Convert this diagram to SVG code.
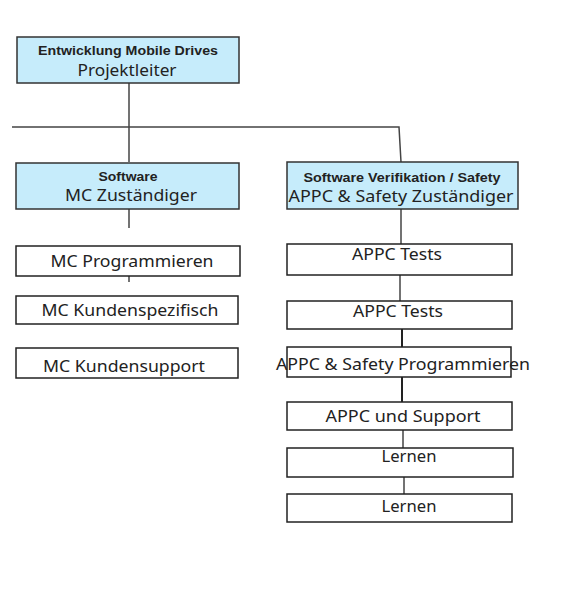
<svg xmlns="http://www.w3.org/2000/svg" width="561" height="598" viewBox="0 0 561 598">
<style>
.hd{fill:#c6ecfb;stroke:#333;stroke-width:1.5}
.bx{fill:#fff;stroke:#222;stroke-width:1.5}
.ln{stroke:#444;stroke-width:1.5;fill:none}
.b{font-family:"Liberation Sans",Arial,sans-serif;font-weight:bold;font-size:12.5px;fill:#222;text-anchor:middle}
.t{font-family:"Noto Sans","Open Sans",sans-serif;font-size:16px;fill:#222;text-anchor:middle}
.tl{font-family:"Noto Sans","Open Sans",sans-serif;font-size:17px;fill:#222;text-anchor:middle}
</style>
<rect width="561" height="598" fill="#fff"/>
<g id="connectors">
<path class="ln" d="M129 83V162"/>
<path class="ln" d="M12 127H399L401 162"/>
<path class="ln" d="M129 209V228"/>
<path class="ln" d="M129 276V282"/>
<path class="ln" d="M401 209V244"/>
<path class="ln" d="M400 275V301"/>
<path class="ln" d="M402 329V347" style="stroke:#222;stroke-width:2"/>
<path class="ln" d="M402 377V402" style="stroke:#222;stroke-width:2"/>
<path class="ln" d="M403 430V448"/>
<path class="ln" d="M404 477V494"/>
</g>
<g id="n-top">
<rect class="hd" x="17" y="37" width="222" height="46"/>
<text class="b" x="128" y="55" textLength="180" lengthAdjust="spacingAndGlyphs">Entwicklung Mobile Drives</text>
<text class="tl" x="127" y="76" textLength="99" lengthAdjust="spacingAndGlyphs">Projektleiter</text>
</g>
<g id="n-software">
<rect class="hd" x="16" y="163" width="223" height="46"/>
<text class="b" x="128" y="181" textLength="59" lengthAdjust="spacingAndGlyphs">Software</text>
<text class="tl" x="131" y="201" textLength="132" lengthAdjust="spacingAndGlyphs">MC Zuständiger</text>
</g>
<g id="n-verif">
<rect class="hd" x="287" y="162" width="231" height="47"/>
<text class="b" x="402" y="182" textLength="197" lengthAdjust="spacingAndGlyphs">Software Verifikation / Safety</text>
<text class="tl" x="401" y="202" textLength="225" lengthAdjust="spacingAndGlyphs">APPC &amp; Safety Zuständiger</text>
</g>
<g id="n-mc-prog">
<rect class="bx" x="16" y="246" width="224" height="30"/>
<text class="t" x="132" y="267" textLength="163" lengthAdjust="spacingAndGlyphs">MC Programmieren</text>
</g>
<g id="n-mc-kunden">
<rect class="bx" x="16" y="296" width="222" height="28"/>
<text class="t" x="130" y="316" textLength="177" lengthAdjust="spacingAndGlyphs">MC Kundenspezifisch</text>
</g>
<g id="n-mc-support">
<rect class="bx" x="16" y="348" width="222" height="30"/>
<text class="t" x="124" y="372" textLength="162" lengthAdjust="spacingAndGlyphs">MC Kundensupport</text>
</g>
<g id="n-appc-tests1">
<rect class="bx" x="287" y="244" width="225" height="31"/>
<text class="t" x="397" y="260" textLength="90" lengthAdjust="spacingAndGlyphs">APPC Tests</text>
</g>
<g id="n-appc-tests2">
<rect class="bx" x="287" y="301" width="225" height="28"/>
<text class="t" x="398" y="317" textLength="90" lengthAdjust="spacingAndGlyphs">APPC Tests</text>
</g>
<g id="n-appc-safety">
<rect class="bx" x="287" y="347" width="224" height="30"/>
<text class="t" x="403" y="370" textLength="254" lengthAdjust="spacingAndGlyphs">APPC &amp; Safety Programmieren</text>
</g>
<g id="n-appc-support">
<rect class="bx" x="287" y="402" width="225" height="28"/>
<text class="t" x="403" y="422" textLength="155" lengthAdjust="spacingAndGlyphs">APPC und Support</text>
</g>
<g id="n-lernen1">
<rect class="bx" x="287" y="448" width="226" height="29"/>
<text class="t" x="409" y="462" textLength="55" lengthAdjust="spacingAndGlyphs">Lernen</text>
</g>
<g id="n-lernen2">
<rect class="bx" x="287" y="494" width="225" height="28"/>
<text class="t" x="409" y="512" textLength="55" lengthAdjust="spacingAndGlyphs">Lernen</text>
</g>
</svg>
